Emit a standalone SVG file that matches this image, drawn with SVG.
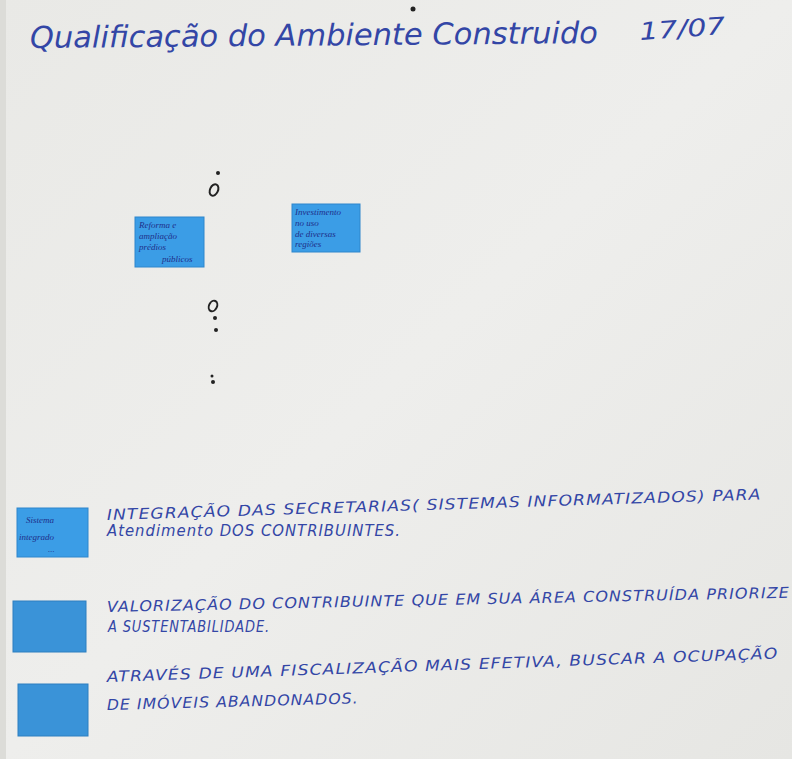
<svg xmlns="http://www.w3.org/2000/svg" width="792" height="759" viewBox="0 0 792 759">
<defs>
<linearGradient id="bg" x1="0" y1="0" x2="1" y2="1">
<stop offset="0" stop-color="#e9e9e6"/>
<stop offset="0.5" stop-color="#eeeeec"/>
<stop offset="1" stop-color="#e6e6e3"/>
</linearGradient>
<style>
.hand{font-family:"DejaVu Sans","Liberation Sans",sans-serif;font-style:italic;fill:#3346a6;}
.title{font-size:30px;}
.line{font-size:15px;letter-spacing:1px;}
.note{fill:#3b9de6;stroke:#2f86cc;stroke-width:1;}
.note2{fill:#3a93d8;stroke:#2d7fc0;stroke-width:1;}
.nt{font-family:"Liberation Serif",serif;font-style:italic;fill:#1f2f8a;font-size:9px;}
.dot{fill:#222;}
.ring{fill:none;stroke:#222;stroke-width:2;}
</style>
</defs>
<rect x="0" y="0" width="792" height="759" fill="url(#bg)"/>
<rect x="0" y="0" width="6" height="759" fill="#dcdcd8"/>

<g id="title">
<text class="hand title" x="30" y="48" textLength="568" lengthAdjust="spacingAndGlyphs" transform="rotate(-0.5 30 48)">Qualificação do Ambiente Construido</text>
<text class="hand" x="640" y="40" font-size="24" textLength="86" lengthAdjust="spacingAndGlyphs" transform="rotate(-4 640 40)">17/07</text>
</g>

<g id="marks">
<circle class="dot" cx="413" cy="9" r="2.5"/>
<circle class="dot" cx="218" cy="173" r="2"/>
<ellipse class="ring" cx="214" cy="190" rx="4" ry="6" transform="rotate(25 214 190)"/>
<ellipse class="ring" cx="213" cy="306" rx="4" ry="5.5" transform="rotate(25 213 306)"/>
<circle class="dot" cx="215" cy="318" r="2"/>
<circle class="dot" cx="216" cy="330" r="2"/>
<circle class="dot" cx="212" cy="376" r="1.5"/>
<circle class="dot" cx="213" cy="382" r="2"/>
</g>

<g id="note-reforma">
<rect class="note" x="135" y="217" width="69" height="50"/>
<text class="nt" x="139" y="228" font-size="10">Reforma e</text>
<text class="nt" x="139" y="239">ampliação</text>
<text class="nt" x="139" y="250">prédios</text>
<text class="nt" x="162" y="262">públicos</text>
</g>

<g id="note-investimento">
<rect class="note" x="292" y="204" width="68" height="48"/>
<text class="nt" x="295" y="215">Investimento</text>
<text class="nt" x="295" y="226">no  uso</text>
<text class="nt" x="295" y="237">de diversas</text>
<text class="nt" x="295" y="247">regiões</text>
</g>

<g id="note-sistema">
<rect class="note" x="17" y="508" width="71" height="49"/>
<text class="nt" x="26" y="523" font-size="11">Sistema</text>
<text class="nt" x="19" y="540" font-size="11">integrado</text>
<text class="nt" x="48" y="552" font-size="8">...</text>
</g>
<g id="note-2">
<rect class="note2" x="13" y="601" width="73" height="51"/>
</g>
<g id="note-3">
<rect class="note2" x="18" y="684" width="70" height="52"/>
</g>

<g id="texts">
<text class="hand line" x="107" y="520" textLength="655" lengthAdjust="spacingAndGlyphs" transform="rotate(-1.8 107 520)">INTEGRAÇÃO DAS SECRETARIAS( SISTEMAS INFORMATIZADOS) PARA</text>
<text class="hand line" x="107" y="536" textLength="294" lengthAdjust="spacingAndGlyphs">Atendimento DOS CONTRIBUINTES.</text>
<text class="hand line" x="107" y="612" textLength="683" lengthAdjust="spacingAndGlyphs" transform="rotate(-1.2 107 612)">VALORIZAÇÃO DO CONTRIBUINTE QUE EM SUA ÁREA CONSTRUÍDA PRIORIZE</text>
<text class="hand line" x="108" y="632" textLength="162" lengthAdjust="spacingAndGlyphs">A SUSTENTABILIDADE.</text>
<text class="hand line" x="107" y="682" textLength="672" lengthAdjust="spacingAndGlyphs" transform="rotate(-2 107 682)">ATRAVÉS DE UMA FISCALIZAÇÃO MAIS EFETIVA, BUSCAR A OCUPAÇÃO</text>
<text class="hand line" x="107" y="710" textLength="252" lengthAdjust="spacingAndGlyphs" transform="rotate(-1.5 107 710)">DE IMÓVEIS ABANDONADOS.</text>
</g>
</svg>
